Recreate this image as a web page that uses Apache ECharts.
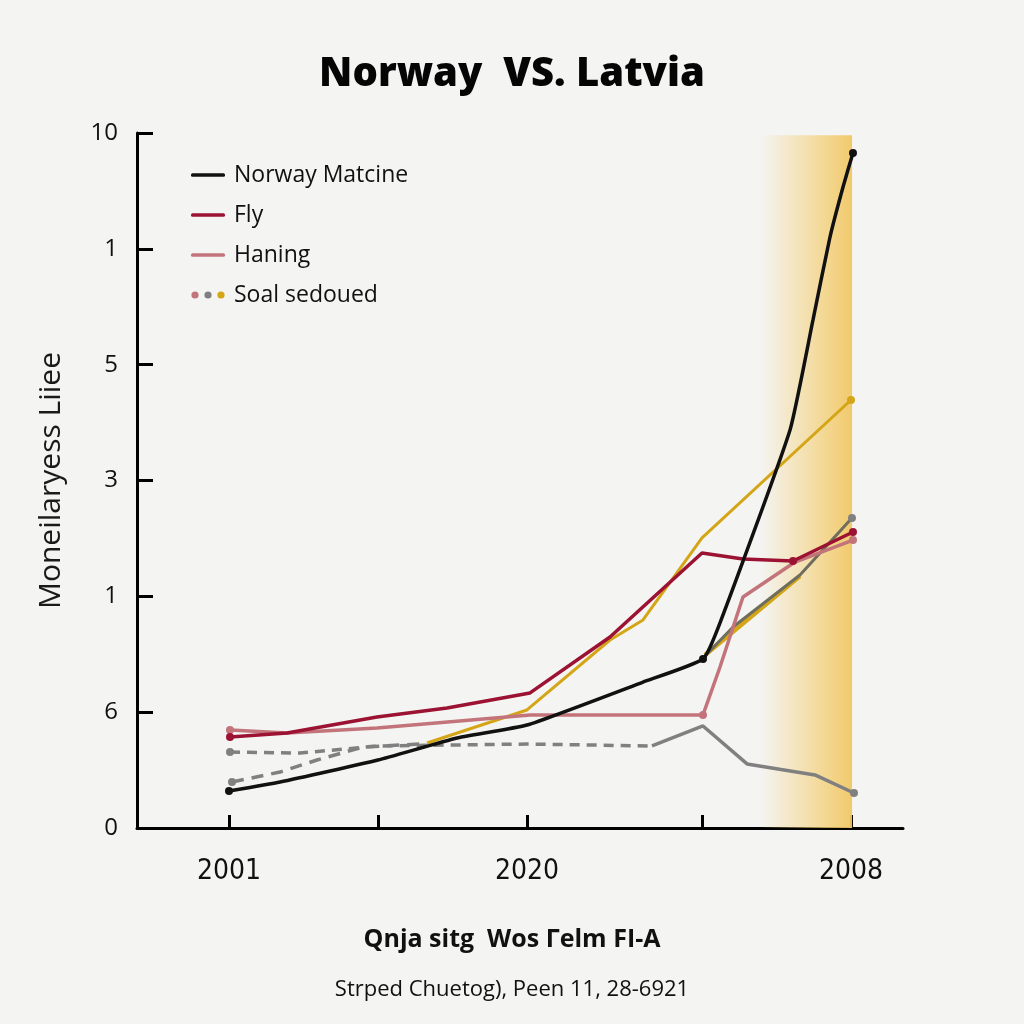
<!DOCTYPE html>
<html>
<head>
<meta charset="utf-8">
<style>
  html, body { margin: 0; padding: 0; background: #f4f4f3; }
  #chart { width: 1024px; height: 1024px; }
</style>
<script src="https://cdn.jsdelivr.net/npm/echarts@6/dist/echarts.min.js"></script>
</head>
<body>
<div id="chart"></div>
<script>
// ---- data ----
const yTickLabels = ['0', '6', '1', '3', '5', '1', '10'];
const xTickValues = [12.01, 31.46, 50.91, 73.76, 93.21];
const xLabelValues = [12.01, 50.91, 93.21];
const xLabelTexts = ['2001', '2020', '2008'];
const bandRange = [81.3, 93.35];

const norway = [[12.01,0.319],[18.67,0.397],[31.46,0.587],[41.78,0.777],[50.91,0.889],[66.06,1.260],[73.89,1.459],[76.11,1.770],[85.25,3.436],[88.25,4.386],[90.47,5.102],[92.17,5.534],[93.47,5.828]];
const fly = [[12.14,0.786],[19.58,0.820],[31.33,0.958],[40.47,1.036],[51.31,1.166],[61.75,1.649],[73.76,2.374],[79.11,2.322],[85.64,2.305],[93.47,2.555]];
const haning = [[12.14,0.846],[19.58,0.820],[31.33,0.863],[51.31,0.976],[73.89,0.976],[76.11,1.390],[79.11,1.994],[85.90,2.296],[93.47,2.486]];
const soal = [[37.86,0.734],[50.91,1.019],[61.75,1.623],[66.06,1.796],[73.76,2.504],[93.21,3.695]];
const soalLower = [[74.15,1.494],[86.55,2.176]];
const greyRise = [[73.89,1.468],[77.81,1.735],[86.55,2.184],[93.34,2.676]];
const greyDashA = [[12.14,0.656],[21.28,0.647],[31.46,0.708],[50.91,0.725],[67.23,0.708]];
const greySolidA = [[67.23,0.708],[73.89,0.881],[79.64,0.553],[88.51,0.458],[93.60,0.302]];
const greyDashB = [[12.40,0.397],[18.67,0.483],[23.50,0.587],[29.50,0.699],[36.95,0.725]];

// ---- styles ----
const C_BLACK = '#111111', C_RED = '#9c1233', C_PINK = '#c3747b', C_GOLD = '#d4a617', C_GREY = '#808080';
const FONT = "'Open Sans', 'Noto Sans', sans-serif";

function lineIcon(color) {
  const svg = `<svg xmlns="http://www.w3.org/2000/svg" width="34" height="12"><rect x="0" y="4.2" width="34" height="3.6" rx="1.5" fill="${color}"/></svg>`;
  return 'image://data:image/svg+xml;charset=utf-8,' + encodeURIComponent(svg);
}
function dotsIcon() {
  const svg = `<svg xmlns="http://www.w3.org/2000/svg" width="34" height="12"><circle cx="4" cy="6" r="3.6" fill="${C_PINK}"/><circle cx="17" cy="6" r="3.6" fill="${C_GREY}"/><circle cx="30" cy="6" r="3.6" fill="${C_GOLD}"/></svg>`;
  return 'image://data:image/svg+xml;charset=utf-8,' + encodeURIComponent(svg);
}

function mkLine(name, data, color, width, dots, extra) {
  return Object.assign({
    type: 'line', name: name, data: data, smooth: false,
    symbol: 'circle',
    symbolSize: function (v, p) { return dots.indexOf(p.dataIndex) >= 0 ? 8 : 0; },
    showSymbol: true,
    itemStyle: { color: color },
    lineStyle: { color: color, width: width },
    emphasis: { disabled: true },
    silent: true, animation: false, z: 3
  }, extra || {});
}

const chart = echarts.init(document.getElementById('chart'), null, { renderer: 'canvas' });
chart.setOption({
  backgroundColor: '#f4f4f3',
  animation: false,
  title: [
    { text: 'Norway  VS. Latvia', left: 'center', top: 50,
      textStyle: { fontFamily: FONT, fontWeight: 800, fontSize: 40, color: '#050505' } },
    { text: 'Qnja sitg  Wos Γelm FI-A', left: 'center', top: 922,
      textStyle: { fontFamily: FONT, fontWeight: 'bold', fontSize: 25, color: '#111' } },
    { text: 'Strped Chuetog), Peen 11, 28-6921', left: 'center', top: 974,
      textStyle: { fontFamily: FONT, fontWeight: 'normal', fontSize: 22, color: '#111' } }
  ],
  legend: {
    orient: 'vertical', left: 186, top: 158, itemGap: 16,
    itemWidth: 34, itemHeight: 12, selectedMode: false,
    textStyle: { fontFamily: FONT, fontSize: 23, color: '#111', lineHeight: 24, padding: [0, 0, 0, 4] },
    data: [
      { name: 'Norway Matcine', icon: lineIcon(C_BLACK) },
      { name: 'Fly', icon: lineIcon(C_RED) },
      { name: 'Haning', icon: lineIcon(C_PINK) },
      { name: 'Soal sedoued', icon: dotsIcon() }
    ]
  },
  grid: { left: 137, right: 121, top: 133, bottom: 196, containLabel: false },
  xAxis: {
    type: 'value', min: 0, max: 100,
    splitLine: { show: false },
    axisLine: { show: true, lineStyle: { color: '#000', width: 3 } },
    axisTick: { show: true, inside: true, length: 13, lineStyle: { color: '#000', width: 3 }, customValues: xTickValues },
    axisLabel: {
      show: true, customValues: xLabelValues, margin: 30,
      fontFamily: "'Liberation Sans Narrow', 'DejaVu Sans Condensed', 'Open Sans', sans-serif",
      fontSize: 28, color: '#111',
      formatter: function (v) {
        for (let i = 0; i < xLabelValues.length; i++) if (Math.abs(v - xLabelValues[i]) < 0.01) return xLabelTexts[i];
        return '';
      }
    }
  },
  yAxis: {
    type: 'value', min: 0, max: 6, interval: 1,
    name: 'Moneilaryess Liiee', nameLocation: 'middle', nameRotate: 90, nameGap: 71,
    nameTextStyle: { fontFamily: FONT, fontSize: 30, color: '#1a1a1a' },
    splitLine: { show: false },
    axisLine: { show: true, lineStyle: { color: '#000', width: 3 } },
    axisTick: { show: true, inside: true, length: 16, lineStyle: { color: '#000', width: 3 } },
    axisLabel: {
      margin: 19, fontFamily: FONT, fontSize: 24, color: '#111',
      formatter: function (v) { return yTickLabels[Math.round(v)]; }
    }
  },
  series: [
    { type: 'line', name: 'band', data: [], silent: true, z: 1,
      markArea: { silent: true,
        itemStyle: { color: new echarts.graphic.LinearGradient(0, 0, 1, 0, [
          { offset: 0, color: 'rgba(244,210,125,0)' },
          { offset: 0.3, color: 'rgba(244,210,125,0.35)' },
          { offset: 0.7, color: 'rgba(243,206,115,0.75)' },
          { offset: 1, color: 'rgba(241,199,100,0.95)' }
        ]) },
        data: [[{ xAxis: bandRange[0], yAxis: 5.98 }, { xAxis: bandRange[1], yAxis: 0 }]] } },
    mkLine('greyDashA', greyDashA, C_GREY, 3, [0], { lineStyle: { color: C_GREY, width: 3.5, type: [10, 7] } }),
    mkLine('greySolidA', greySolidA, C_GREY, 3.5, [4]),
    mkLine('greyDashB', greyDashB, C_GREY, 3, [0], { lineStyle: { color: C_GREY, width: 3.5, type: [12, 8] } }),
    mkLine('soalLower', soalLower, C_GOLD, 4.5, []),
    mkLine('greyRise', greyRise, '#6f6d5e', 3, [3], { itemStyle: { color: C_GREY } }),
    mkLine('Soal sedoued', soal, C_GOLD, 3, [5]),
    mkLine('Haning', haning, C_PINK, 3.5, [0, 4, 8]),
    mkLine('Fly', fly, C_RED, 3.5, [0, 8, 9]),
    mkLine('Norway Matcine', norway, C_BLACK, 3.5, [0, 6, 12], { smooth: 0.15 })
  ]
});
</script>
</body>
</html>
